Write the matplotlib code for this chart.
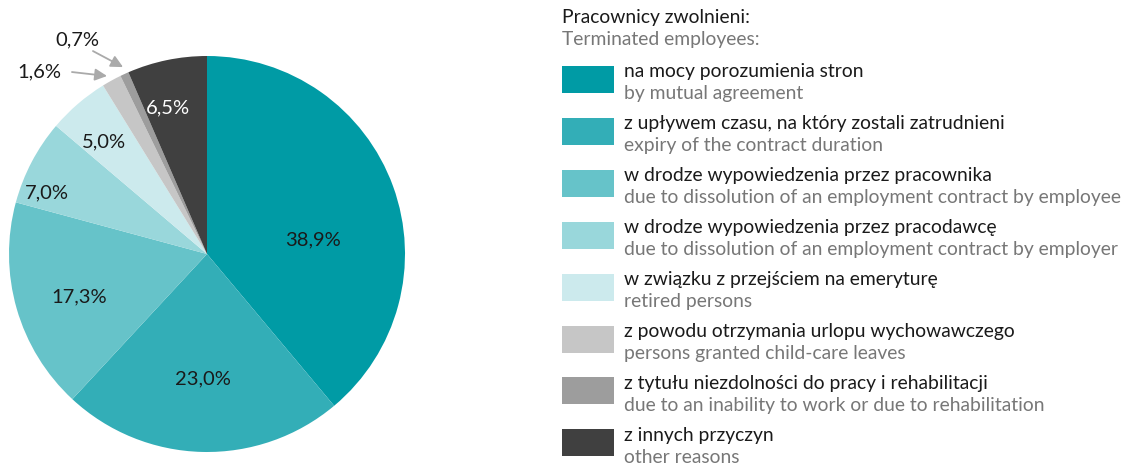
import matplotlib.pyplot as plt
from matplotlib.patches import Rectangle

plt.rcParams['font.family'] = ['Lato', 'DejaVu Sans']

shares = [38.9, 23.0, 17.3, 7.0, 5.0, 1.6, 0.7, 6.5]
labels_pl = [
    "na mocy porozumienia stron",
    "z upływem czasu, na który zostali zatrudnieni",
    "w drodze wypowiedzenia przez pracownika",
    "w drodze wypowiedzenia przez pracodawcę",
    "w związku z przejściem na emeryturę",
    "z powodu otrzymania urlopu wychowawczego",
    "z tytułu niezdolności do pracy i rehabilitacji",
    "z innych przyczyn",
]
labels_en = [
    "by mutual agreement",
    "expiry of the contract duration",
    "due to dissolution of an employment contract by employee",
    "due to dissolution of an employment contract by employer",
    "retired persons",
    "persons granted child-care leaves",
    "due to an inability to work or due to rehabilitation",
    "other reasons",
]
colors = ['#009ba5', '#33aeb7', '#66c3c9', '#99d7db', '#cceaed', '#c6c6c6', '#9d9d9d', '#404040']

W, H = 1133, 464
fig = plt.figure(figsize=(W / 100, H / 100), dpi=100)

# pie, centre ~ (207, 255) px, radius ~198 px
cx, cy, r = 207, 255, 198
ax = fig.add_axes([(cx - r) / W, (H - cy - r) / H, 2 * r / W, 2 * r / H])
ax.pie(shares, colors=colors, startangle=90, counterclock=False, radius=1,
       wedgeprops=dict(linewidth=0))
ax.set_xlim(-1, 1)
ax.set_ylim(-1, 1)
ax.set_aspect('auto')
ax.axis('off')

def fmt(v):
    return f"{v:.1f}%".replace('.', ',')

# label spots inside the pie (axes data units)
inner_pos = {0: (0.535, 0.076), 1: (-0.02, -0.626), 2: (-0.646, -0.212),
             3: (-0.808, 0.313), 4: (-0.52, 0.571), 7: (-0.197, 0.742)}
for i, (x, y) in inner_pos.items():
    ax.text(x, y, fmt(shares[i]), ha='center', va='center', fontsize=14.5,
            color='white' if i == 7 else '#1a1a1a')

# small slices: label outside + arrow
ax.text(-0.845, 0.924, fmt(shares[5]), ha='center', va='center', fontsize=14.5, color='#1a1a1a')
ax.text(-0.657, 1.086, fmt(shares[6]), ha='center', va='center', fontsize=14.5, color='#1a1a1a',
        clip_on=False)
arrow = dict(arrowstyle='-|>', color='#aaaaaa', lw=1.3, mutation_scale=18, shrinkA=0, shrinkB=0)
ax.annotate('', xy=(-0.505, 0.899), xytext=(-0.682, 0.919), arrowprops=arrow,
            annotation_clip=False)
ax.annotate('', xy=(-0.424, 0.944), xytext=(-0.576, 1.025), arrowprops=arrow,
            annotation_clip=False)

# legend drawn in pixel space
lg = fig.add_axes([0, 0, 1, 1])
lg.set_xlim(0, W)
lg.set_ylim(H, 0)
lg.axis('off')
lg.patch.set_alpha(0)

fs = 13.9
lg.text(562, 18, "Pracownicy zwolnieni:", fontsize=fs, color='#1a1a1a', va='center')
lg.text(562, 40, "Terminated employees:", fontsize=fs, color='#777777', va='center')
for i in range(len(shares)):
    y0 = 72 + i * 51.9
    lg.add_patch(Rectangle((562, y0 - 5), 52, 27, color=colors[i], lw=0))
    lg.text(624, y0, labels_pl[i], fontsize=fs, color='#1a1a1a', va='center')
    lg.text(624, y0 + 22, labels_en[i], fontsize=fs, color='#777777', va='center')

fig.savefig('out.png', dpi=100)
